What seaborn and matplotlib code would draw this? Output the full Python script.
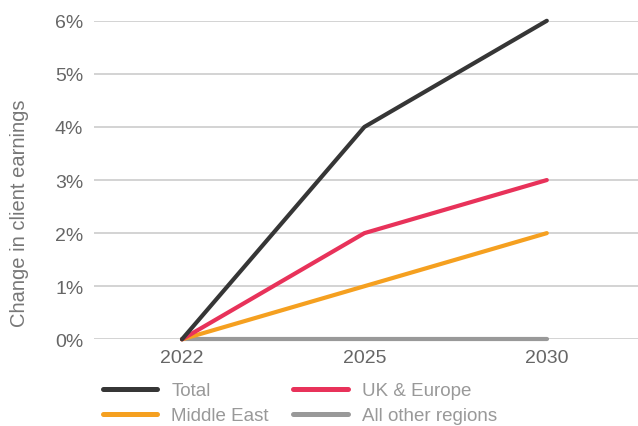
import pandas as pd
import matplotlib.pyplot as plt
import seaborn as sns
from matplotlib.ticker import PercentFormatter
from matplotlib.lines import Line2D

years = ["2022", "2025", "2030"]
total = [0, 4, 6]
uk_europe = [0, 2, 3]
middle_east = [0, 1, 2]
other = [0, 0, 0]

series = {
    "All other regions": other,
    "Middle East": middle_east,
    "UK & Europe": uk_europe,
    "Total": total,
}
colors = {
    "Total": "#363636",
    "UK & Europe": "#e8325a",
    "Middle East": "#f5a020",
    "All other regions": "#999999",
}

rows = []
for name, vals in series.items():
    for y, v in zip(years, vals):
        rows.append({"year": y, "value": v, "series": name})
df = pd.DataFrame(rows)

sns.set_style("white")
plt.rcParams["font.family"] = ["Liberation Sans", "DejaVu Sans"]

fig = plt.figure(figsize=(6.38, 4.27), dpi=100)
ax = fig.add_axes([0.148, 0.203, 0.852, 0.746])

sns.lineplot(data=df, x="year", y="value", hue="series", palette=colors,
             hue_order=list(series.keys()), linewidth=3.0, ax=ax, legend=False)
for ln in ax.get_lines():
    ln.set_solid_capstyle("round")
    ln.set_solid_joinstyle("round")
    ln.set_clip_on(False)

ax.set_xlim(-0.48, 2.5)
ax.set_ylim(0, 6)
ax.set_yticks(range(0, 7))
ax.yaxis.set_major_formatter(PercentFormatter(decimals=0))
ax.grid(axis="y", color="#c8c8c8", linewidth=1.1)
ax.set_axisbelow(True)
for s in ax.spines.values():
    s.set_visible(False)
ax.tick_params(axis="both", length=0, labelsize=14, colors="#666666")
ax.tick_params(axis="y", pad=8)
ax.tick_params(axis="x", pad=7)
ax.set_xlabel("")
ax.set_ylabel("Change in client earnings", fontsize=14.5, color="#777777")
ax.yaxis.set_label_coords(-0.12, 0.40)

# legend, filled column by column
order = ["Total", "Middle East", "UK & Europe", "All other regions"]
handles = [Line2D([0], [0], color=colors[n], linewidth=3.6, solid_capstyle="round") for n in order]
leg = fig.legend(handles, order, loc="lower left", bbox_to_anchor=(0.135, -0.035),
                 ncol=2, frameon=False, fontsize=13.5, handlelength=2.9,
                 handletextpad=0.75, columnspacing=1.3, labelspacing=0.4)
for t in leg.get_texts():
    t.set_color("#999999")

fig.savefig("out.png", dpi=100)
